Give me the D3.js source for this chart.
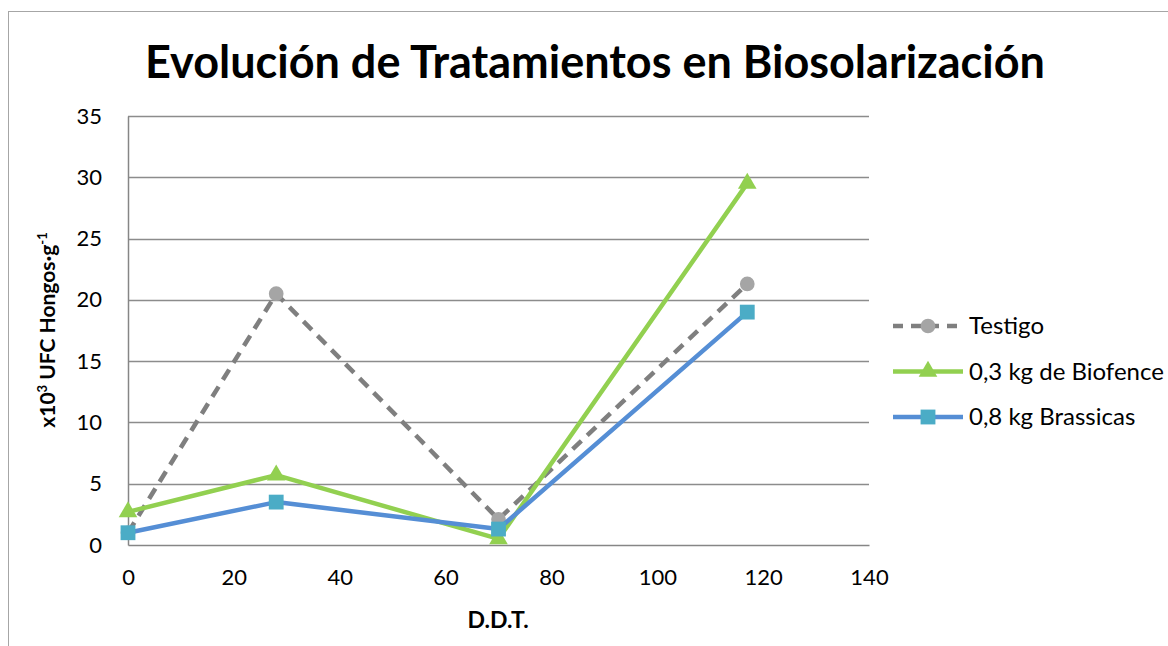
<!DOCTYPE html>
<html>
<head>
<meta charset="utf-8">
<script src="https://cdnjs.cloudflare.com/ajax/libs/d3/7.8.5/d3.min.js"></script>
<style>
  body { margin: 0; background: #fff; }
  text { font-family: Lato, "Open Sans", sans-serif; fill: #000; }
</style>
</head>
<body>
<div id="chart"></div>
<script>
// data
var days = [0, 28, 70, 117];
var testigo = [1.0, 20.5, 2.1, 21.3];
var biofence = [2.7, 5.7, 0.5, 29.5];
var brassicas = [1.0, 3.5, 1.3, 19.0];
var seriesNames = ['Testigo', '0,3 kg de Biofence', '0,8 kg Brassicas'];
var yTicks = [0, 5, 10, 15, 20, 25, 30, 35];
var xTicks = [0, 20, 40, 60, 80, 100, 120, 140];

var width = 1168, height = 646;
var margin = { top: 116, right: 299, bottom: 101, left: 128 };

var svg = d3.select('#chart')
  .append('svg')
  .attr('width', width)
  .attr('height', height);

// outer chart frame
svg.append('rect')
  .attr('x', 8.5).attr('y', 11.5)
  .attr('width', 1200).attr('height', 700)
  .attr('fill', 'none')
  .attr('stroke', '#a6a6a6');

var x = d3.scaleLinear().domain([0, 140]).range([margin.left, width - margin.right]);
var y = d3.scaleLinear().domain([0, 35]).range([height - margin.bottom, margin.top]);

// gridlines
svg.append('g')
  .selectAll('line')
  .data(yTicks.slice(1))
  .enter()
  .append('line')
  .attr('x1', x(0)).attr('x2', x(140))
  .attr('y1', function(d) { return Math.round(y(d)) + 0.5; })
  .attr('y2', function(d) { return Math.round(y(d)) + 0.5; })
  .attr('stroke', '#8c8c8c')
  .attr('stroke-width', 1.3);

var yAxis = svg.append('g')
  .attr('transform', 'translate(' + x(0) + ',0)')
  .call(d3.axisLeft(y).tickValues(yTicks).tickSize(0).tickPadding(26));
var xAxis = svg.append('g')
  .attr('transform', 'translate(0,' + y(0) + ')')
  .call(d3.axisBottom(x).tickValues(xTicks).tickSize(0).tickPadding(24));

[yAxis, xAxis].forEach(function(ax) {
  ax.select('.domain').attr('stroke', '#868686').attr('stroke-width', 1.5);
  ax.selectAll('text')
    .style('font-family', 'Lato, sans-serif')
    .style('font-size', '22px')
    .attr('fill', '#000');
});

// title
svg.append('text')
  .attr('x', 595).attr('y', 78)
  .attr('text-anchor', 'middle')
  .style('font-size', '45px')
  .style('font-weight', 'bold')
  .text('Evolución de Tratamientos en Biosolarización');

// axis titles
svg.append('text')
  .attr('x', 498).attr('y', 628)
  .attr('text-anchor', 'middle')
  .style('font-size', '23px')
  .style('font-weight', 'bold')
  .text('D.D.T.');

var yt = svg.append('text')
  .attr('transform', 'translate(55,' + 330 + ') rotate(-90)')
  .attr('text-anchor', 'middle')
  .style('font-size', '21px')
  .style('font-weight', 'bold');
yt.append('tspan').text('x10');
yt.append('tspan').attr('dy', -8).style('font-size', '13px').text('3');
yt.append('tspan').attr('dy', 8).text(' UFC Hongos·g');
yt.append('tspan').attr('dy', -8).style('font-size', '13px').text('-1');

var series = [
  { name: seriesNames[0], values: testigo, line: '#7f7f7f', fill: '#a5a5a5', dash: '12,8', symbol: d3.symbolCircle, size: 170 },
  { name: seriesNames[1], values: biofence, line: '#92d050', fill: '#92d050', dash: null, symbol: d3.symbolTriangle, size: 150 },
  { name: seriesNames[2], values: brassicas, line: '#558ed5', fill: '#4bacc6', dash: null, symbol: d3.symbolSquare, size: 220 }
];

var line = d3.line()
  .x(function(d) { return x(d[0]); })
  .y(function(d) { return y(d[1]); });

series.forEach(function(s) {
  var pts = days.map(function(d, i) { return [d, s.values[i]]; });
  svg.append('path')
    .datum(pts)
    .attr('d', line)
    .attr('fill', 'none')
    .attr('stroke', s.line)
    .attr('stroke-width', 4.5)
    .attr('stroke-dasharray', s.dash)
    .attr('stroke-linejoin', 'round');
  svg.append('g')
    .selectAll('path')
    .data(pts)
    .enter()
    .append('path')
    .attr('transform', function(d) { return 'translate(' + x(d[0]) + ',' + y(d[1]) + ')'; })
    .attr('d', d3.symbol().type(s.symbol).size(s.size))
    .attr('fill', s.fill);
});

// legend
var legend = svg.selectAll('.legend')
  .data(series)
  .enter()
  .append('g')
  .attr('class', 'legend')
  .attr('transform', function(d, i) { return 'translate(893,' + (326 + i * 45.5) + ')'; });

legend.append('line')
  .attr('x1', 0).attr('x2', 70)
  .attr('stroke', function(d) { return d.line; })
  .attr('stroke-width', 4.5)
  .attr('stroke-dasharray', function(d) { return d.dash ? '10,8' : null; });
legend.append('path')
  .attr('transform', 'translate(35,0)')
  .attr('d', function(d) { return d3.symbol().type(d.symbol).size(d.size)(); })
  .attr('fill', function(d) { return d.fill; });
legend.append('text')
  .attr('x', 76).attr('y', 8)
  .style('font-size', '24px')
  .text(function(d) { return d.name; });
</script>
</body>
</html>
